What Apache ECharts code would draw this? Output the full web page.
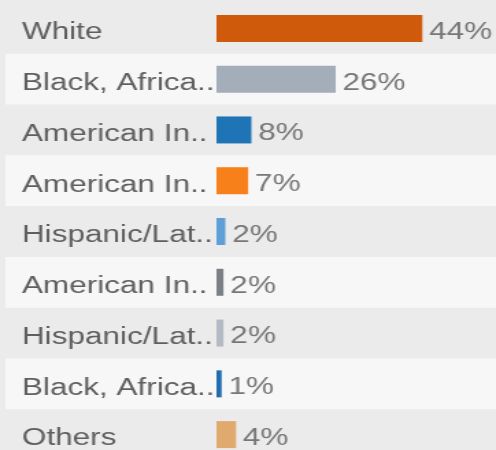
<!DOCTYPE html>
<html>
<head>
<meta charset="utf-8">
<script src="https://cdn.jsdelivr.net/npm/echarts@6/dist/echarts.min.js"></script>
<style>
  html, body { margin: 0; padding: 0; background: #ebebeb; overflow: hidden; }
  /* the source picture is stretched sideways, so the chart is drawn narrow and widened */
  #chart { width: 362px; height: 450px; transform: scaleX(1.37); transform-origin: 0 0; }
</style>
</head>
<body>
<div id="chart"></div>
<script>
const categories = ['White', 'Black, Africa..', 'American In..', 'American In..', 'Hispanic/Lat..',
    'American In..', 'Hispanic/Lat..', 'Black, Africa..', 'Others'];
const values = [44.2, 25.6, 7.5, 6.8, 1.9, 1.5, 1.5, 1.1, 4.2];
const colors = ['#cf5a0c', '#a4adba', '#1f74b6', '#f8801a', '#5d9fd6', '#7b8087', '#b3bac5', '#1f6db0', '#e0a96e'];

const chart = echarts.init(document.getElementById('chart'));

const labelFont = 'Liberation Sans, Arial, sans-serif';

chart.setOption({
    animation: false,
    backgroundColor: '#ebebeb',
    grid: [
        // row stripes behind labels and bars (last row runs off the bottom)
        { left: 4, right: 0, top: 3, height: 457, outerBoundsMode: 'none' },
        { left: 158, right: 34, top: 3, height: 457, outerBoundsMode: 'none' }
    ],
    xAxis: [
        { gridIndex: 0, type: 'value', show: false },
        { gridIndex: 1, type: 'value', min: 0, max: 50, show: false }
    ],
    yAxis: [
        {
            gridIndex: 0, type: 'category', inverse: true, data: categories,
            axisLine: { show: false }, axisTick: { show: false }, axisLabel: { show: false },
            splitArea: { show: true, areaStyle: { color: ['rgba(0,0,0,0)', '#f7f7f7'] } }
        },
        {
            gridIndex: 1, type: 'category', inverse: true, data: categories,
            axisLine: { show: false }, axisTick: { show: false },
            axisLabel: {
                align: 'left', margin: 142,
                formatter: v => '{t|' + v + '}',
                rich: {
                    // text sits a little below the bar centre in the source
                    t: {
                        color: '#5f5f5f', fontFamily: labelFont, fontSize: 23,
                        lineHeight: 32, verticalAlign: 'bottom'
                    }
                }
            }
        }
    ],
    series: [{
        type: 'bar',
        xAxisIndex: 1,
        yAxisIndex: 1,
        barWidth: 27,
        data: values.map((v, i) => ({ value: v, itemStyle: { color: colors[i] } })),
        label: {
            show: true,
            position: 'right',
            distance: 5,
            offset: [0, 4],
            color: '#777777',
            fontFamily: labelFont,
            fontSize: 23,
            formatter: p => Math.round(p.value) + '%'
        }
    }]
});
</script>
</body>
</html>
